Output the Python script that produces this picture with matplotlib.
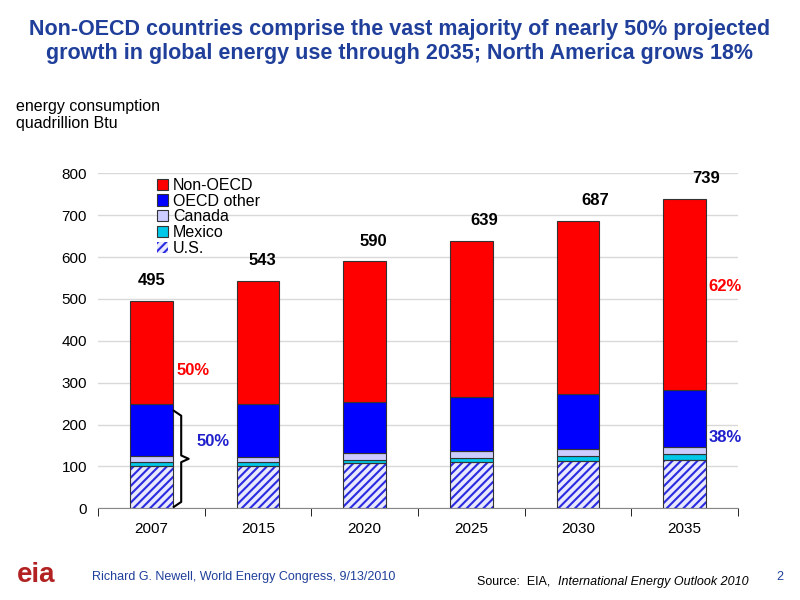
import matplotlib
matplotlib.use("Agg")
import matplotlib.pyplot as plt
import numpy as np

years = ["2007", "2015", "2020", "2025", "2030", "2035"]
totals = [495, 543, 590, 639, 687, 739]
us = [102, 102, 107, 110, 113, 116]
mexico = [8, 8, 8, 10, 11, 14]
canada = [14, 13, 16, 16, 17, 16]
oecd_other = [124, 127, 122, 129, 132, 137]
non_oecd = [t - a - b - c - d for t, a, b, c, d in zip(totals, us, mexico, canada, oecd_other)]

plt.rcParams['font.family'] = ['Liberation Sans', 'DejaVu Sans']
plt.rcParams['hatch.linewidth'] = 1.5

fig = plt.figure(figsize=(8, 6), dpi=100)
ax = fig.add_axes([0.1225, 0.153, 0.80, 0.558])
x = np.arange(len(years))
w = 0.40
bottom = np.zeros(len(years))
series = [
    ("U.S.", us, '#e8e8ff', '////'),
    ("Mexico", mexico, '#00c8e8', None),
    ("Canada", canada, '#ccccff', None),
    ("OECD other", oecd_other, '#0000ff', None),
    ("Non-OECD", non_oecd, '#ff0000', None),
]
handles = {}
for name, vals, col, hatch in series:
    if hatch:
        b = ax.bar(x, vals, w, bottom=bottom, color=col, edgecolor='#2a2ae0',
                   linewidth=0, hatch=hatch, label=name, zorder=3)
        ax.bar(x, vals, w, bottom=bottom, fill=False, edgecolor='#333333',
               linewidth=0.8, zorder=3.5)
    else:
        b = ax.bar(x, vals, w, bottom=bottom, color=col, edgecolor='#333333',
                   linewidth=0.8, label=name, zorder=3)
    handles[name] = b
    bottom += np.array(vals)

for xi, t in zip(x, totals):
    ax.text(xi + 0.04 * xi, t + 30, str(t),
            ha='center', va='bottom', fontsize=12, fontweight='bold')

ax.set_ylim(0, 800)
ax.set_xlim(-0.5, 5.5)
ax.set_yticks(range(0, 801, 100))
ax.set_xticks(x)
ax.set_xticklabels(years)
ax.set_xticks(np.arange(-0.5, 6, 1), minor=True)
ax.tick_params(axis='x', which='major', length=0, pad=10, labelsize=11)
ax.tick_params(axis='x', which='minor', length=6, direction='out')
ax.tick_params(axis='y', length=0, labelsize=11, pad=8)
ax.grid(axis='y', color='#d9d9d9', linewidth=1, zorder=0)
for s in ['top', 'right', 'left']:
    ax.spines[s].set_visible(False)
ax.spines['bottom'].set_color('#888888')

order = ["Non-OECD", "OECD other", "Canada", "Mexico", "U.S."]
ax.legend([handles[n] for n in order], order, loc='upper left',
          bbox_to_anchor=(0.07, 1.03), frameon=False, fontsize=11.5,
          handlelength=0.7, handleheight=0.7, labelspacing=0.05, handletextpad=0.3)

ax.text(0.24, 330, "50%", color='#ff0000', fontsize=12, fontweight='bold', va='center')
ax.text(0.42, 160, "50%", color='#1f1fcc', fontsize=12, fontweight='bold', va='center')
ax.text(5.22, 530, "62%", color='#ff0000', fontsize=12, fontweight='bold', va='center')
ax.text(5.22, 168, "38%", color='#1f1fcc', fontsize=12, fontweight='bold', va='center')
# bracket
bx = 0.21
yb, yt, ym = 3, 233, 118
ax.plot([bx, bx + 0.07, bx + 0.07, bx + 0.14, bx + 0.07, bx + 0.07, bx],
        [yt, yt - 12, ym + 8, ym, ym - 8, yb + 12, yb], color='black', lw=1.5, zorder=4)

fig.text(0.5, 0.968, "Non-OECD countries comprise the vast majority of nearly 50% projected\ngrowth in global energy use through 2035; North America grows 18%",
         ha='center', va='top', fontsize=15.5, fontweight='bold', color='#1f3f9a', linespacing=1.2)
fig.text(0.02, 0.835, "energy consumption\nquadrillion Btu", ha='left', va='top', fontsize=11.5, linespacing=1.2)
fig.text(0.115, 0.033, "Richard G. Newell, World Energy Congress, 9/13/2010", fontsize=9, color='#1f3f9a')
fig.text(0.596, 0.025, "Source:  EIA,", fontsize=9)
fig.text(0.697, 0.025, "International Energy Outlook 2010", fontsize=9, style='italic')
fig.text(0.97, 0.033, "2", fontsize=9, color='#1f3f9a')
fig.text(0.045, 0.03, "eia", fontsize=20, color='#b22222', fontweight='bold', ha='center')
fig.savefig("out.png", dpi=100)
